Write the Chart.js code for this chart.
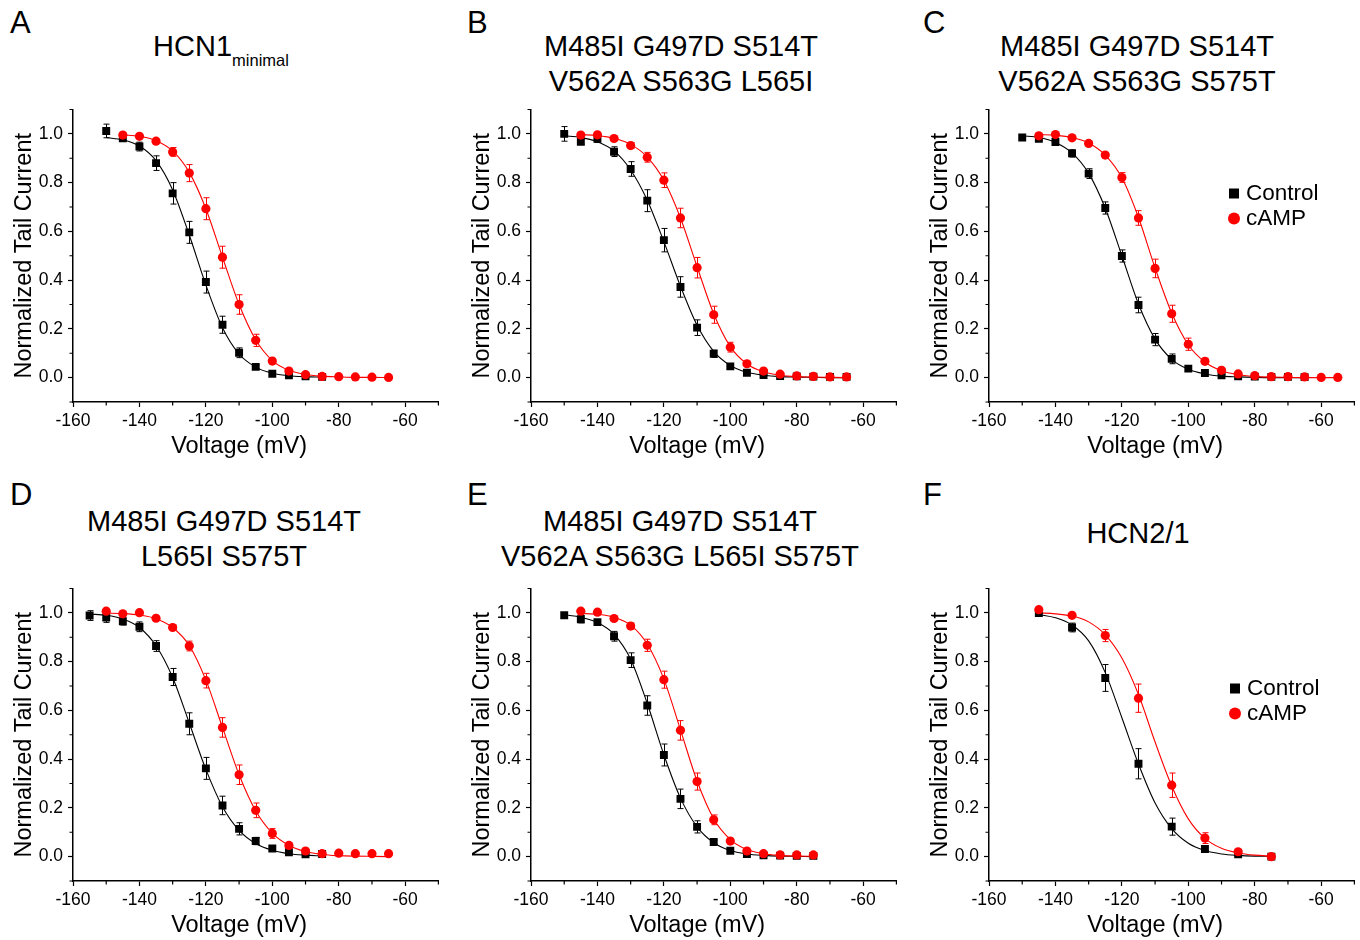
<!DOCTYPE html>
<html>
<head>
<meta charset="utf-8">
<script src="https://cdn.jsdelivr.net/npm/chart.js@4.4.1/dist/chart.umd.min.js"></script>
<style>
  html, body { margin:0; padding:0; background:#fff; }
  body { width:1360px; height:940px; position:relative; overflow:hidden;
         font-family:"Liberation Sans", Arial, sans-serif; color:#000; }
  .letter { position:absolute; font-size:31px; line-height:31px; }
  .ttl { position:absolute; width:500px; text-align:center; font-size:29px; line-height:35px; white-space:nowrap; }
  .ttl .sub { font-size:16.5px; position:relative; top:10px; }
  .panel { position:absolute; width:444px; height:368px; }
</style>
</head>
<body>

<div class="letter" style="left:10px;top:7px">A</div>
<div class="letter" style="left:467px;top:7px">B</div>
<div class="letter" style="left:923px;top:7px">C</div>
<div class="letter" style="left:10px;top:479px">D</div>
<div class="letter" style="left:467px;top:479px">E</div>
<div class="letter" style="left:923px;top:479px">F</div>

<div class="ttl" style="left:-29px;top:29px">HCN1<span class="sub">minimal</span></div>
<div class="ttl" style="left:431px;top:29px">M485I G497D S514T<br>V562A S563G L565I</div>
<div class="ttl" style="left:887px;top:29px">M485I G497D S514T<br>V562A S563G S575T</div>
<div class="ttl" style="left:-26px;top:504px">M485I G497D S514T<br>L565I S575T</div>
<div class="ttl" style="left:430px;top:504px">M485I G497D S514T<br>V562A S563G L565I S575T</div>
<div class="ttl" style="left:888px;top:516px">HCN2/1</div>

<div class="panel" style="left:0px;top:94px"><canvas id="cA" width="444" height="368"></canvas></div>
<div class="panel" style="left:458px;top:94px"><canvas id="cB" width="444" height="368"></canvas></div>
<div class="panel" style="left:916px;top:94px"><canvas id="cC" width="444" height="368"></canvas></div>
<div class="panel" style="left:0px;top:573px"><canvas id="cD" width="444" height="368"></canvas></div>
<div class="panel" style="left:458px;top:573px"><canvas id="cE" width="444" height="368"></canvas></div>
<div class="panel" style="left:916px;top:573px"><canvas id="cF" width="444" height="368"></canvas></div>

<script>
// ---- valeurs (courant de queue normalisé, tension en mV) ----

// A : HCN1 minimal
const A_ctrlV   = [-150,-145,-140,-135,-130,-125,-120,-115,-110,-105,-100,-95,-90,-85];
const A_ctrlI   = [1.012,0.982,0.948,0.880,0.756,0.596,0.392,0.217,0.102,0.044,0.016,0.010,0.005,0.003];
const A_ctrlErr = [0.028,0.010,0.018,0.030,0.044,0.045,0.045,0.035,0.020,0.008,0.005,0.004,0.003,0.002];
const A_ctrlFit = [0.985,0.975,0.950,0.890,0.770,0.585,0.380,0.205,0.097,0.043,0.018,0.008,0.004,0.002];
const A_campV   = [-145,-140,-135,-130,-125,-120,-115,-110,-105,-100,-95,-90,-85,-80,-75,-70,-65];
const A_campI   = [0.995,0.990,0.970,0.926,0.839,0.693,0.494,0.300,0.153,0.068,0.027,0.012,0.005,0.004,0.003,0.002,0.001];
const A_campErr = [0.008,0.006,0.008,0.018,0.035,0.045,0.045,0.040,0.025,0.010,0.006,0.004,0.003,0.002,0.002,0.002,0.002];
const A_campFit = [0.996,0.990,0.972,0.930,0.842,0.693,0.494,0.300,0.155,0.070,0.030,0.013,0.006,0.003,0.001,0.001,0.000];

// B
const B_ctrlV   = [-150,-145,-140,-135,-130,-125,-120,-115,-110,-105,-100,-95,-90,-85,-80,-75,-70,-65];
const B_ctrlI   = [1.000,0.968,0.980,0.927,0.856,0.726,0.564,0.372,0.205,0.098,0.046,0.020,0.011,0.007,0.005,0.004,0.003,0.003];
const B_ctrlErr = [0.030,0.010,0.015,0.020,0.030,0.045,0.048,0.042,0.032,0.015,0.008,0.005,0.004,0.003,0.002,0.002,0.002,0.002];
const B_ctrlFit = [0.992,0.985,0.968,0.930,0.852,0.728,0.558,0.375,0.215,0.108,0.050,0.022,0.010,0.004,0.002,0.001,0.000,0.000];
const B_campV   = [-145,-140,-135,-130,-125,-120,-115,-110,-105,-100,-95,-90,-85,-80,-75,-70,-65];
const B_campI   = [0.995,0.996,0.981,0.952,0.904,0.810,0.655,0.451,0.258,0.125,0.057,0.027,0.014,0.007,0.005,0.003,0.003];
const B_campErr = [0.006,0.005,0.006,0.012,0.020,0.030,0.040,0.042,0.035,0.020,0.008,0.005,0.004,0.003,0.002,0.002,0.002];
const B_campFit = [0.997,0.993,0.982,0.957,0.905,0.810,0.655,0.455,0.262,0.127,0.056,0.024,0.010,0.004,0.002,0.001,0.000];

// C
const C_ctrlV   = [-150,-145,-140,-135,-130,-125,-120,-115,-110,-105,-100,-95,-90,-85,-80,-75,-70,-65];
const C_ctrlI   = [0.985,0.980,0.967,0.920,0.837,0.696,0.499,0.298,0.156,0.077,0.037,0.019,0.010,0.005,0.004,0.003,0.003,0.002];
const C_ctrlErr = [0.006,0.008,0.010,0.015,0.020,0.025,0.025,0.032,0.025,0.020,0.008,0.005,0.004,0.003,0.002,0.002,0.002,0.002];
const C_ctrlFit = [0.992,0.985,0.965,0.922,0.838,0.695,0.500,0.302,0.158,0.075,0.034,0.015,0.006,0.003,0.001,0.000,0.000,0.000];
const C_campV   = [-145,-140,-135,-130,-125,-120,-115,-110,-105,-100,-95,-90,-85,-80,-75,-70,-65,-60,-55];
const C_campI   = [0.992,0.997,0.984,0.961,0.913,0.821,0.655,0.448,0.262,0.137,0.067,0.030,0.015,0.008,0.004,0.004,0.003,0.001,0.001];
const C_campErr = [0.005,0.005,0.006,0.008,0.010,0.020,0.030,0.038,0.035,0.025,0.012,0.006,0.004,0.003,0.002,0.002,0.002,0.002,0.002];
const C_campFit = [0.997,0.994,0.985,0.963,0.913,0.820,0.657,0.450,0.265,0.135,0.064,0.028,0.012,0.005,0.002,0.001,0.000,0.000,0.000];

// D
const D_ctrlV   = [-155,-150,-145,-140,-135,-130,-125,-120,-115,-110,-105,-100,-95,-90,-85];
const D_ctrlI   = [0.989,0.981,0.965,0.943,0.864,0.737,0.545,0.362,0.210,0.114,0.064,0.033,0.018,0.010,0.011];
const D_ctrlErr = [0.020,0.020,0.015,0.020,0.022,0.035,0.045,0.045,0.038,0.025,0.015,0.006,0.004,0.003,0.003];
const D_ctrlFit = [0.995,0.990,0.975,0.940,0.865,0.735,0.548,0.358,0.205,0.108,0.054,0.026,0.012,0.006,0.003];
const D_campV   = [-150,-145,-140,-135,-130,-125,-120,-115,-110,-105,-100,-95,-90,-85,-80,-75,-70,-65];
const D_campI   = [1.007,0.996,1.001,0.978,0.940,0.864,0.722,0.530,0.336,0.190,0.095,0.046,0.023,0.012,0.014,0.012,0.012,0.012];
const D_campErr = [0.006,0.006,0.006,0.008,0.010,0.020,0.030,0.040,0.040,0.030,0.020,0.010,0.005,0.004,0.003,0.003,0.003,0.003];
const D_campFit = [0.999,0.997,0.991,0.976,0.940,0.866,0.724,0.530,0.336,0.188,0.096,0.046,0.021,0.009,0.004,0.002,0.001,0.000];

// E
const E_ctrlV   = [-150,-145,-140,-135,-130,-125,-120,-115,-110,-105,-100,-95,-90,-85,-80,-75];
const E_ctrlI   = [0.990,0.974,0.962,0.904,0.806,0.620,0.417,0.237,0.122,0.060,0.024,0.011,0.005,0.004,0.003,0.003];
const E_ctrlErr = [0.008,0.015,0.010,0.020,0.030,0.040,0.045,0.040,0.025,0.008,0.005,0.004,0.003,0.002,0.002,0.002];
const E_ctrlFit = [0.992,0.982,0.960,0.912,0.810,0.628,0.418,0.240,0.122,0.057,0.025,0.011,0.005,0.002,0.001,0.000];
const E_campV   = [-145,-140,-135,-130,-125,-120,-115,-110,-105,-100,-95,-90,-85,-80,-75];
const E_campI   = [1.007,1.003,0.977,0.946,0.867,0.726,0.518,0.308,0.151,0.064,0.023,0.012,0.007,0.007,0.007];
const E_campErr = [0.005,0.005,0.006,0.012,0.025,0.035,0.040,0.035,0.020,0.008,0.005,0.004,0.003,0.003,0.003];
const E_campFit = [0.998,0.994,0.982,0.950,0.872,0.728,0.520,0.310,0.155,0.070,0.029,0.012,0.005,0.002,0.001];

// F : HCN2/1 (points tous les 10 mV, ajustement lu tous les 5 mV)
const F_V       = [-145,-135,-125,-115,-105,-95,-85,-75];
const F_ctrlI   = [0.999,0.940,0.733,0.381,0.123,0.031,0.010,0.000];
const F_ctrlErr = [0.008,0.018,0.055,0.062,0.035,0.006,0.004,0.003];
const F_campI   = [1.013,0.990,0.907,0.650,0.293,0.076,0.020,0.000];
const F_campErr = [0.006,0.006,0.025,0.058,0.050,0.022,0.008,0.004];
const F_fitV    = [-145,-140,-135,-130,-125,-120,-115,-110,-105,-100,-95,-90,-85,-80,-75];
const F_ctrlFit = [0.993,0.980,0.950,0.885,0.755,0.570,0.380,0.220,0.115,0.055,0.025,0.011,0.005,0.002,0.001];
const F_campFit = [1.000,0.996,0.987,0.963,0.910,0.815,0.665,0.470,0.290,0.155,0.075,0.034,0.015,0.006,0.002];

const X_TICKS = { min:-160, max:-50, step:10, labelEvery:20, lastLabel:-60 };
const Y_TICKS = { min:-0.1, max:1.1, step:0.1 };

const BLACK = "#000000", RED = "#ff0000", NONE = "rgba(0,0,0,0)";
const FONT = '"Liberation Sans", Arial, sans-serif';

Chart.defaults.font.family = FONT;
Chart.defaults.color = BLACK;

function pts(xs, ys){ return xs.map((x,i)=>({x, y:ys[i]})); }

// barres d'erreur dessinées juste avant les points de chaque série
const errorBars = {
  id: "errorBars",
  beforeDatasetDraw(chart, args){
    const ds = chart.data.datasets[args.index];
    if(!ds.errors) return;
    const {ctx} = chart, xs = chart.scales.x, ys = chart.scales.y;
    ctx.save();
    ctx.strokeStyle = ds.borderColor;
    ctx.lineWidth = 1;
    ds.data.forEach((p,i)=>{
      const e = ds.errors[i];
      if(!e) return;
      const px = Math.round(xs.getPixelForValue(p.x)) + 0.5;
      const y1 = ys.getPixelForValue(p.y + e), y2 = ys.getPixelForValue(p.y - e);
      ctx.beginPath();
      ctx.moveTo(px, y1); ctx.lineTo(px, y2);
      ctx.moveTo(px-3, y1); ctx.lineTo(px+3, y1);
      ctx.moveTo(px-3, y2); ctx.lineTo(px+3, y2);
      ctx.stroke();
    });
    ctx.restore();
  }
};

// graduations secondaires (sans étiquette) plus courtes que les principales
const minorTicks = {
  id: "minorTicks",
  afterDraw(chart){
    const {ctx, chartArea} = chart;
    ctx.save();
    ctx.strokeStyle = BLACK;
    ctx.lineWidth = 1.2;
    ctx.beginPath();
    chart.scales.x.ticks.forEach(t=>{
      if(t.label) return;
      const px = chart.scales.x.getPixelForValue(t.value);
      ctx.moveTo(px, chartArea.bottom); ctx.lineTo(px, chartArea.bottom + 3.5);
    });
    chart.scales.y.ticks.forEach(t=>{
      if(t.label) return;
      const py = chart.scales.y.getPixelForValue(t.value);
      ctx.moveTo(chartArea.left, py); ctx.lineTo(chartArea.left - 3.5, py);
    });
    ctx.stroke();
    ctx.restore();
  }
};

// titre de l'axe X (centré sur -160..-60) + légende dans la zone de tracé
const panelDecor = {
  id: "panelDecor",
  afterDraw(chart, args, opts){
    const {ctx, chartArea} = chart, xs = chart.scales.x;
    ctx.save();
    ctx.fillStyle = BLACK;
    ctx.font = "23.5px " + FONT;
    ctx.textAlign = "center";
    ctx.textBaseline = "alphabetic";
    const cx = (chartArea.left + xs.getPixelForValue(X_TICKS.lastLabel)) / 2;
    ctx.fillText("Voltage (mV)", cx, chartArea.bottom + 51);
    if(opts.legend){
      const lx = chartArea.left + opts.legend.x, ly = chartArea.top + opts.legend.y;
      ctx.font = "22.5px " + FONT;
      ctx.textAlign = "left";
      ctx.textBaseline = "middle";
      ctx.fillStyle = BLACK;
      ctx.fillRect(lx-5, ly-5, 10, 10);
      ctx.fillText("Control", lx+12, ly);
      ctx.fillStyle = RED;
      ctx.beginPath(); ctx.arc(lx, ly+25, 6, 0, Math.PI*2); ctx.fill();
      ctx.fillStyle = BLACK;
      ctx.fillText("cAMP", lx+12, ly+25);
    }
    ctx.restore();
  }
};

function axisCommon(){
  return {
    grid: { drawOnChartArea:false, drawTicks:true, tickLength:5, tickWidth:1.2,
            tickColor: c => (c.tick && c.tick.label) ? BLACK : NONE },
    border: { display:true, color:BLACK, width:1.5 },
  };
}

function makePanel(id, p){
  const datasets = [
    { label:"cAMP", data:pts(p.campV, p.campI), errors:p.campErr, showLine:false,
      pointStyle:"circle", pointRadius:4.6, borderColor:RED, backgroundColor:RED,
      pointBorderColor:RED, pointBackgroundColor:RED, pointBorderWidth:0 },
    { label:"Control", data:pts(p.ctrlV, p.ctrlI), errors:p.ctrlErr, showLine:false,
      pointStyle:"rect", pointRadius:5.6, borderColor:BLACK, backgroundColor:BLACK,
      pointBorderColor:BLACK, pointBackgroundColor:BLACK, pointBorderWidth:0 },
    { label:"cAMP fit", data:pts(p.campFitV, p.campFit), showLine:true, pointRadius:0,
      borderColor:RED, borderWidth:1.1, cubicInterpolationMode:"monotone" },
    { label:"Control fit", data:pts(p.ctrlFitV, p.ctrlFit), showLine:true, pointRadius:0,
      borderColor:BLACK, borderWidth:1.1, cubicInterpolationMode:"monotone" },
  ];
  const xAxis = Object.assign(axisCommon(), {
    type:"linear", min:X_TICKS.min, max:X_TICKS.max,
    ticks:{ stepSize:X_TICKS.step, autoSkip:false, maxRotation:0, padding:4, font:{size:17.5}, color:BLACK,
      callback: v => (v % X_TICKS.labelEvery === 0 && v <= X_TICKS.lastLabel) ? String(v) : "" },
    afterFit: s => { s.height = 60; },
  });
  const yAxis = Object.assign(axisCommon(), {
    type:"linear", min:Y_TICKS.min, max:Y_TICKS.max,
    ticks:{ stepSize:Y_TICKS.step, autoSkip:false, padding:5, font:{size:17.5}, color:BLACK,
      callback: v => { const k = Math.round(v*10); return (k>=0 && k<=10 && k%2===0) ? (k/10).toFixed(1) : ""; } },
    title:{ display:true, text:"Normalized Tail Current", font:{size:23.5}, color:BLACK, padding:{top:10, bottom:0} },
    afterFit: s => { s.width = 73; },
  });
  return new Chart(document.getElementById(id), {
    type: "scatter",
    data: { datasets },
    options: {
      responsive:false, animation:false, events:[],
      layout:{ padding:{ top:14, right:4, bottom:0, left:0 } },
      scales:{ x:xAxis, y:yAxis },
      plugins:{ legend:{display:false}, tooltip:{enabled:false}, panelDecor:{ legend:p.legend || null } },
    },
    plugins:[errorBars, minorTicks, panelDecor],
  });
}

makePanel("cA", { ctrlV:A_ctrlV, ctrlI:A_ctrlI, ctrlErr:A_ctrlErr, ctrlFitV:A_ctrlV, ctrlFit:A_ctrlFit,
                  campV:A_campV, campI:A_campI, campErr:A_campErr, campFitV:A_campV, campFit:A_campFit });
makePanel("cB", { ctrlV:B_ctrlV, ctrlI:B_ctrlI, ctrlErr:B_ctrlErr, ctrlFitV:B_ctrlV, ctrlFit:B_ctrlFit,
                  campV:B_campV, campI:B_campI, campErr:B_campErr, campFitV:B_campV, campFit:B_campFit });
makePanel("cC", { ctrlV:C_ctrlV, ctrlI:C_ctrlI, ctrlErr:C_ctrlErr, ctrlFitV:C_ctrlV, ctrlFit:C_ctrlFit,
                  campV:C_campV, campI:C_campI, campErr:C_campErr, campFitV:C_campV, campFit:C_campFit,
                  legend:{ x:245, y:84 } });
makePanel("cD", { ctrlV:D_ctrlV, ctrlI:D_ctrlI, ctrlErr:D_ctrlErr, ctrlFitV:D_ctrlV, ctrlFit:D_ctrlFit,
                  campV:D_campV, campI:D_campI, campErr:D_campErr, campFitV:D_campV, campFit:D_campFit });
makePanel("cE", { ctrlV:E_ctrlV, ctrlI:E_ctrlI, ctrlErr:E_ctrlErr, ctrlFitV:E_ctrlV, ctrlFit:E_ctrlFit,
                  campV:E_campV, campI:E_campI, campErr:E_campErr, campFitV:E_campV, campFit:E_campFit });
makePanel("cF", { ctrlV:F_V, ctrlI:F_ctrlI, ctrlErr:F_ctrlErr, ctrlFitV:F_fitV, ctrlFit:F_ctrlFit,
                  campV:F_V, campI:F_campI, campErr:F_campErr, campFitV:F_fitV, campFit:F_campFit,
                  legend:{ x:246, y:100 } });
</script>
</body>
</html>
